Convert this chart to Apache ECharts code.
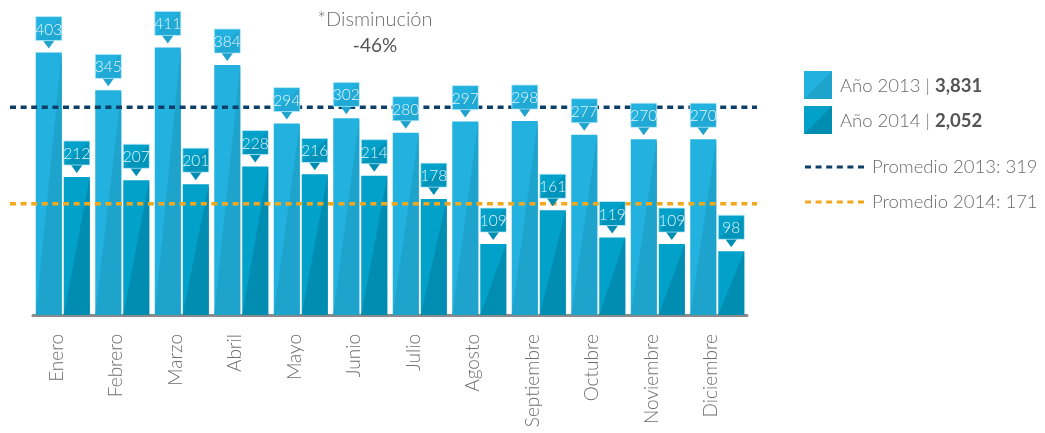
<!DOCTYPE html>
<html>
<head>
<meta charset="utf-8">
<script src="https://cdn.jsdelivr.net/npm/echarts@6/dist/echarts.min.js"></script>
<style>
html,body{margin:0;padding:0;background:#fff;}
#c{width:1045px;height:433px;}
</style>
</head>
<body>
<div id="c"></div>
<script>
const months = ['Enero','Febrero','Marzo','Abril','Mayo','Junio','Julio','Agosto','Septiembre','Octubre','Noviembre','Diciembre'];
const y2013 = [403,345,411,384,294,302,280,297,298,277,270,270];
const y2014 = [212,207,201,228,216,214,178,109,161,119,109,98];
const seriesNames = ['Año 2013','Año 2014'];
const titleLines = ['*Disminución','-46%'];

const sum = a => a.reduce((s,v)=>s+v,0);
const total2013 = sum(y2013), total2014 = sum(y2014);
const avg2013 = Math.round(total2013/12), avg2014 = Math.round(total2014/12);

const FONT = 'Lato, "Open Sans", sans-serif';
const C13 = {light:'#23b2df', dark:'#1ea3cd'};
const C14 = {light:'#02a1ca', dark:'#018cb1'};
const NAVY = '#0e3f67', ORANGE = '#f1a81c';

function geom(api, side){
  const idx = api.value(0), v = api.value(1);
  const top = api.coord([idx, v]);
  const base = api.coord([idx, 0]);
  const cw = api.size([1,0])[0];
  const bw = Math.round(cw*0.437);
  const cx = top[0] + side*(bw/2 + 1);
  return {v, cx, bw, x0: cx-bw/2, x1: cx+bw/2, yT: top[1], yB: base[1]};
}
function barRender(side, col){
  return function(params, api){
    const g = geom(api, side);
    return {type:'group', children:[
      {type:'rect', shape:{x:g.x0, y:g.yT, width:g.bw, height:g.yB-g.yT}, style:{fill:col.light}},
      {type:'polygon', shape:{points:[[g.x1,g.yT],[g.x1,g.yB],[g.x0,g.yB]]}, style:{fill:col.dark}}
    ]};
  };
}
function calloutRender(side, col){
  return function(params, api){
    const g = geom(api, side);
    const by = g.yT - 36, bh = 24;
    return {type:'group', children:[
      {type:'polygon', shape:{points:[[g.cx-6.5, by+bh-1],[g.cx+6.5, by+bh-1],[g.cx, g.yT-4]]}, style:{fill:col.dark}},
      {type:'rect', shape:{x:g.x0, y:by, width:g.bw, height:bh}, style:{fill:col.light, stroke:'rgba(190,235,250,0.8)', lineWidth:1}},
      {type:'polygon', shape:{points:[[g.x1-0.5,by+0.5],[g.x1-0.5,by+bh-0.5],[g.x0+0.5,by+bh-0.5]]}, style:{fill:col.dark, opacity:0.6}},
      {type:'text', style:{text:String(g.v), x:g.cx, y:by+bh/2+1, align:'center', verticalAlign:'middle', fill:'#e4f5fb', fontSize:15.5, fontFamily:FONT, fontWeight:300}}
    ]};
  };
}

const chart = echarts.init(document.getElementById('c'));
const fmt = n => n.toLocaleString('en-US');

function legendSquare(x, y, col){
  return {type:'group', x:x, y:y, children:[
    {type:'rect', shape:{x:0,y:0,width:28,height:28}, style:{fill:col.light}},
    {type:'polygon', shape:{points:[[28,0],[28,28],[0,28]]}, style:{fill:col.dark}}
  ]};
}
function legendDash(x, y, color){
  return {type:'line', shape:{x1:x, y1:y, x2:x+59, y2:y}, style:{stroke:color, lineWidth:3, lineDash:[6,4.6]}};
}
const richLegend = {
  n:{fontSize:18.5, fontFamily:FONT, fontWeight:300, fill:'#6b6b6b', color:'#6b6b6b'},
  b:{fontSize:18.5, fontFamily:FONT, fontWeight:'bold', fill:'#555', color:'#555'}
};

chart.setOption({
  animation:false,
  grid:[
    {left:33, right:298, top:22, bottom:118},
    {left:10, right:288, top:22, bottom:118}
  ],
  xAxis:[
    {type:'category', gridIndex:0, data:months,
     axisLine:{show:true, lineStyle:{color:'#8a8a8a', width:3}},
     axisTick:{show:false},
     axisLabel:{rotate:90, margin:19, fontSize:19, fontFamily:FONT, fontWeight:300, color:'#6f6f6f', verticalAlign:'bottom', lineHeight:12}},
    {type:'value', gridIndex:1, min:0, max:1, show:false}
  ],
  yAxis:[
    {type:'value', gridIndex:0, min:0, max:450, show:false, splitLine:{show:false}},
    {type:'value', gridIndex:1, min:0, max:450, show:false, splitLine:{show:false}}
  ],
  series:[
    {type:'custom', name:seriesNames[0], clip:false, z:2, renderItem:barRender(-1, C13), data:y2013.map((v,i)=>[i,v]), encode:{x:0,y:1}},
    {type:'custom', name:seriesNames[1], clip:false, z:2, renderItem:barRender(1, C14), data:y2014.map((v,i)=>[i,v]), encode:{x:0,y:1}},
    {type:'line', xAxisIndex:1, yAxisIndex:1, z:3, symbol:'none', silent:true, data:[[0,avg2013],[1,avg2013]], lineStyle:{color:NAVY, width:3.5, type:[6,4.6]}},
    {type:'line', xAxisIndex:1, yAxisIndex:1, z:3, symbol:'none', silent:true, data:[[0,avg2014],[1,avg2014]], lineStyle:{color:ORANGE, width:3.5, type:[6,4.6]}},
    {type:'custom', clip:false, z:4, renderItem:calloutRender(-1, C13), data:y2013.map((v,i)=>[i,v]), encode:{x:0,y:1}},
    {type:'custom', clip:false, z:4, renderItem:calloutRender(1, C14), data:y2014.map((v,i)=>[i,v]), encode:{x:0,y:1}}
  ],
  graphic:[
    {type:'text', x:375, y:20, style:{text:titleLines[0], align:'center', verticalAlign:'middle', fontSize:20, fontFamily:FONT, fontWeight:300, fill:'#6f6f6f'}},
    {type:'text', x:375, y:46, style:{text:titleLines[1], align:'center', verticalAlign:'middle', fontSize:19, fontFamily:FONT, fill:'#555'}},
    legendSquare(804, 71, C13),
    legendSquare(804, 106, C14),
    {type:'text', x:840, y:86, style:{text:'{n|'+seriesNames[0]+' | }{b|'+fmt(total2013)+'}', rich:richLegend, verticalAlign:'middle'}},
    {type:'text', x:840, y:121, style:{text:'{n|'+seriesNames[1]+' | }{b|'+fmt(total2014)+'}', rich:richLegend, verticalAlign:'middle'}},
    legendDash(805, 167, NAVY),
    legendDash(805, 202, ORANGE),
    {type:'text', x:872, y:167, style:{text:'Promedio 2013: '+avg2013, verticalAlign:'middle', fontSize:18.5, fontFamily:FONT, fontWeight:300, fill:'#6b6b6b'}},
    {type:'text', x:872, y:202, style:{text:'Promedio 2014: '+avg2014, verticalAlign:'middle', fontSize:18.5, fontFamily:FONT, fontWeight:300, fill:'#6b6b6b'}}
  ]
});
</script>
</body>
</html>
